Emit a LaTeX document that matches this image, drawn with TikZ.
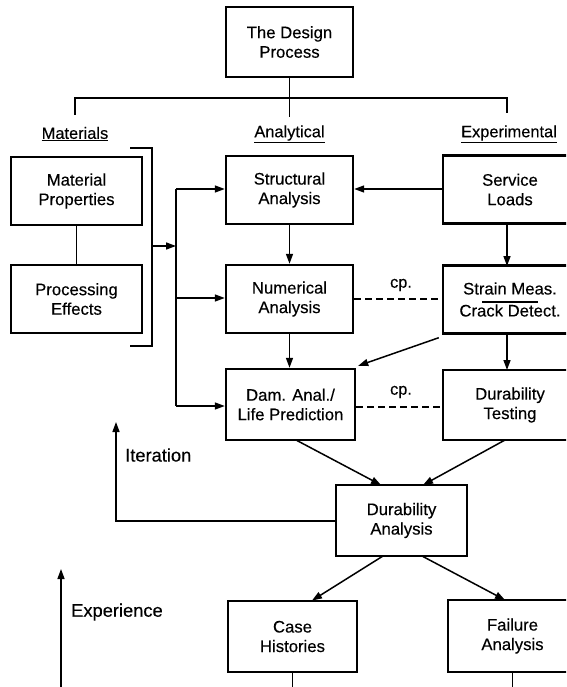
\documentclass[tikz,border=0pt]{standalone}
\usepackage{fontspec}
\setmainfont{Liberation Sans}[FakeBold=0.3]
\usetikzlibrary{arrows.meta,calc}
\begin{document}
\begin{tikzpicture}[x=1pt,y=-1pt,
  box/.style={draw, line width=2.4pt, align=center, inner sep=0pt, font=\fontsize{16.7}{19.5}\selectfont},
  cbox/.style={box, minimum width=127pt, minimum height=68pt},
  rbox/.style={box, minimum width=134pt, minimum height=68pt},
  conn/.style={line width=1.5pt},
  arr/.style={conn, -{Triangle[length=10pt,width=7pt]}},
  lbl/.style={font=\fontsize{16.4}{19}\selectfont, inner sep=0pt},
  biglbl/.style={font=\fontsize{18.3}{20}\selectfont, inner sep=0pt, anchor=west},
  cpline/.style={conn, dash pattern=on 7pt off 4pt}]
\clip (0,0) rectangle (566,687);
\fill[white] (0,0) rectangle (566,687);

% boxes
\node[box, minimum width=127pt, minimum height=70pt] (top) at (289.5,42) {The Design\\Process};
\node[box, minimum width=131pt, minimum height=68pt] (mp) at (76.5,191) {Material\\Properties};
\node[box, minimum width=131pt, minimum height=68pt] (pe) at (76.5,299) {Processing\\Effects};
\node[cbox] (sa) at (289.5,190) {Structural\\Analysis};
\node[cbox] (na) at (289.5,299) {Numerical\\Analysis};
\node[box, minimum width=129pt, minimum height=71pt] (dam) at (290.5,404.5) {Dam. Anal./\\Life Prediction};
\node[rbox] (sl) at (510,189.5) {Service\\Loads};
\node[rbox] (sm) at (510,299.5) {Strain Meas.\\[2.5pt]Crack Detect.};
\node[rbox, minimum height=70pt] (dt) at (510,405) {Durability\\Testing};
\node[box, minimum width=131pt, minimum height=71pt] (da) at (401.5,520.5) {Durability\\Analysis};
\node[box, minimum width=129pt, minimum height=71pt] (ch) at (292.5,636.5) {Case\\Histories};
\node[box, minimum width=129pt, minimum height=72pt] (fa) at (512.5,636) {Failure\\Analysis};
\draw[line width=1.2pt] ($(sm.center)+(-28,2.5)$) -- ($(sm.center)+(28,2.5)$);

% headings
\node[lbl] (lmat) at (75,134) {\underline{Materials}};
\node[lbl] (lana) at (289.5,134) {\underline{Analytical}};
\node[lbl] (lexp) at (509,134) {\underline{Experimental}};

% tree
\coordinate (hm) at (289.5,98);
\coordinate (hl) at (75,98);
\coordinate (hr) at (507,98);
\draw[conn] (top.south) -- (289.5,117);
\draw[conn] (75,115) -- (hl) -- (hr) -- (507,113);

% materials
\draw[conn] (mp.south) -- (pe.north);
\coordinate (b1) at (130,148);
\coordinate (b2) at (152,148);
\coordinate (b3) at (152,346);
\coordinate (b4) at (130,346);
\draw[conn] (b1) -- (b2) -- (b3) -- (b4);
\coordinate (bm) at (152,246);
\coordinate (fm) at (176,246);
\draw[arr] (bm) -- (fm);
\coordinate (ft) at (176,189);
\coordinate (fb) at (176,406);
\draw[conn] (ft) -- (fb);
\draw[arr] (ft) -- (ft -| sa.west);
\draw[arr] (176,298) -- (sa.west |- 176,298);
\draw[arr] (fb) -- (fb -| dam.west);

% analytical / experimental
\draw[arr] (sl.west |- 0,189) -- (sa.east |- 0,189);
\draw[arr] (sa.south) -- (na.north);
\draw[arr] (na.south) -- (dam.north -| na.south);
\draw[arr] (507,223) -- (507,266);
\draw[arr] (507,333) -- (507,370);
\draw[arr] ([shift={(-3,3)}]sm.south west) -- ([shift={(2,-2)}]dam.north east);
\draw[cpline] (na.east |- 0,299) -- (sm.west |- 0,299);
\draw[cpline] (dam.east |- 0,407) -- (dt.west |- 0,407);
\node[lbl] (cp1) at (401,285) {cp.};
\node[lbl] (cp2) at (401,392) {cp.};

% to durability analysis
\draw[arr] (296,440) -- (381,485);
\draw[arr] (505,440) -- (423,485);
\draw[arr] (383,556) -- (312,600.5);
\draw[arr] (422,556) -- (505,600);

% iteration
\coordinate (it1) at (116,521);
\coordinate (it2) at (116,422);
\draw[arr] (da.west |- it1) -- (it1) -- (it2);
\node[biglbl] (iter) at (125,455) {Iteration};

% experience
\coordinate (ex1) at (61,690);
\coordinate (ex2) at (61,569);
\draw[arr] (ex1) -- (ex2);
\node[biglbl] (expr) at (71,612) {Experience};
\draw[conn] (ch.south) -- ++(0,20);
\draw[conn] (fa.south) -- ++(0,20);
\end{tikzpicture}
\end{document}
